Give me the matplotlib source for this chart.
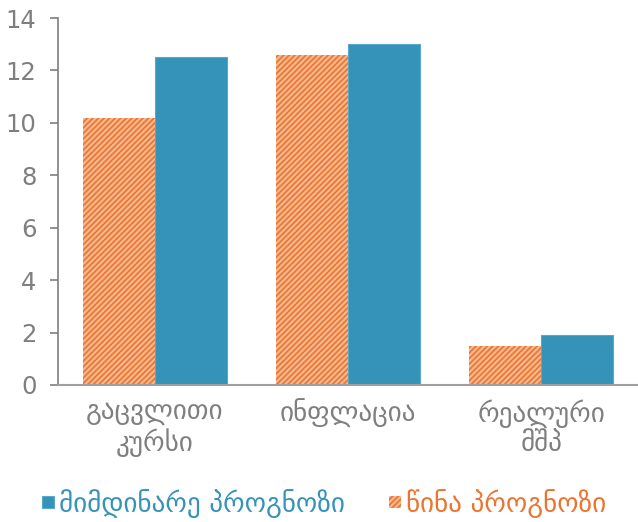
import matplotlib
matplotlib.use("Agg")
import matplotlib.pyplot as plt
import numpy as np

categories = ["გაცვლითი\nკურსი", "ინფლაცია", "რეალური\nმშპ"]
previous_forecast = [10.2, 12.6, 1.5]
current_forecast = [12.5, 13.0, 1.9]
series_names = ["მიმდინარე პროგნოზი", "წინა პროგნოზი"]
y_ticks = [0, 2, 4, 6, 8, 10, 12, 14]

blue = "#3593b9"
orange = "#ec7430"
orange_light = "#f7b88e"
gray = "#7f7f7f"

plt.rcParams["font.family"] = ["DejaVu Sans"]
plt.rcParams["hatch.linewidth"] = 1.2

fig = plt.figure(figsize=(6.38, 5.22), dpi=100)
ax = fig.add_axes([0.0909, 0.2625, 0.9091, 0.703])

x = np.arange(len(categories))
w = 0.373
b_prev = ax.bar(x - w / 2, previous_forecast, w, facecolor=orange_light,
                edgecolor=orange, hatch="//////", linewidth=0)
b_cur = ax.bar(x + w / 2, current_forecast, w, color=blue,
               edgecolor="#5aa8c8", linewidth=0.8)

ax.set_xlim(-0.5, 2.5)
ax.set_ylim(0, 14)
ax.set_yticks(y_ticks)
ax.set_xticks(x)
ax.set_xticklabels(categories, linespacing=1.15)
ax.tick_params(axis="y", colors=gray, labelsize=17.5, length=6, width=1.2, pad=9.5)
ax.tick_params(axis="x", colors=gray, labelsize=19.5, length=0, pad=10)
for s in ["top", "right"]:
    ax.spines[s].set_visible(False)
ax.spines["left"].set_color(gray)
ax.spines["left"].set_linewidth(1.2)
ax.spines["bottom"].set_color("#a0a0a0")
ax.spines["bottom"].set_linewidth(1.5)

leg = fig.legend([b_cur, b_prev], series_names, loc="center",
                 bbox_to_anchor=(0.508, 0.036), ncol=2, frameon=False,
                 fontsize=19.5, handlelength=0.44, handleheight=0.28,
                 handletextpad=0.2, columnspacing=1.6, borderpad=0,
                 borderaxespad=0)
for t, c in zip(leg.get_texts(), [blue, orange]):
    t.set_color(c)

fig.savefig("out.png", dpi=100)
